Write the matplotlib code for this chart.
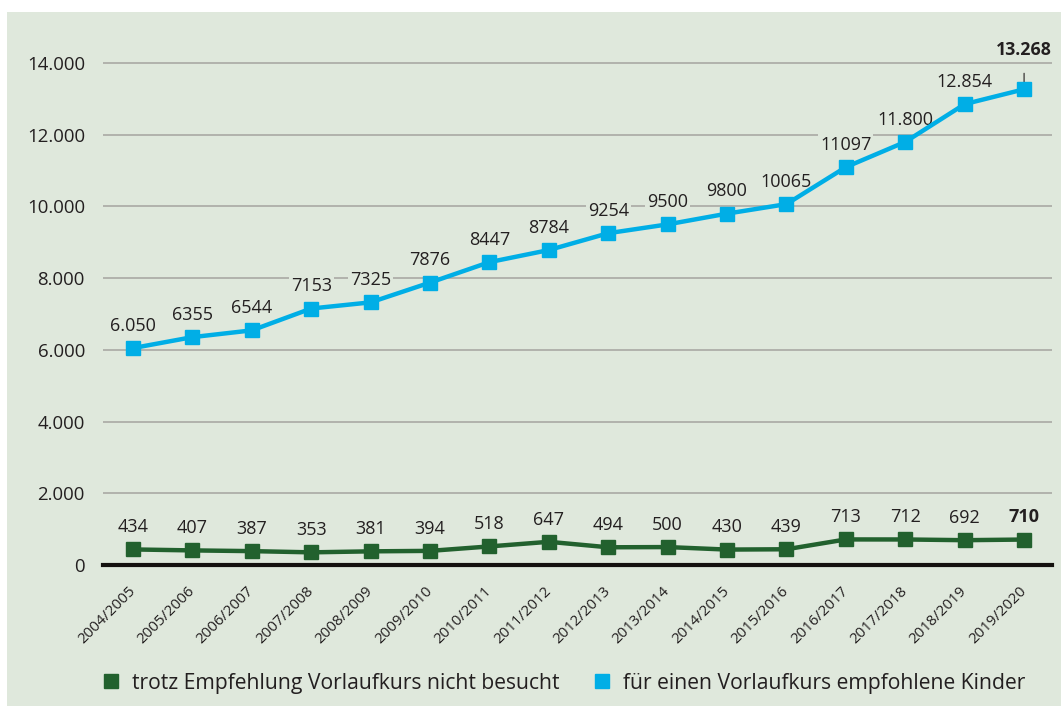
import matplotlib.pyplot as plt
from matplotlib.lines import Line2D
from matplotlib.patches import Rectangle
import matplotlib.transforms as mtransforms

plt.rcParams['font.family'] = ['Open Sans', 'DejaVu Sans']

# data
years = ['2004/2005', '2005/2006', '2006/2007', '2007/2008', '2008/2009', '2009/2010',
         '2010/2011', '2011/2012', '2012/2013', '2013/2014', '2014/2015', '2015/2016',
         '2016/2017', '2017/2018', '2018/2019', '2019/2020']
empfohlen = [6050, 6355, 6544, 7153, 7325, 7876, 8447, 8784, 9254, 9500, 9800, 10065,
             11097, 11800, 12854, 13268]
empfohlen_labels = ['6.050', '6355', '6544', '7153', '7325', '7876', '8447', '8784', '9254',
                    '9500', '9800', '10065', '11097', '11.800', '12.854', '13.268']
nicht_besucht = [434, 407, 387, 353, 381, 394, 518, 647, 494, 500, 430, 439, 713, 712, 692, 710]
yticks = [0, 2000, 4000, 6000, 8000, 10000, 12000, 14000]
ytick_labels = ['0', '2.000', '4.000', '6.000', '8.000', '10.000', '12.000', '14.000']
legend_labels = ['trotz Empfehlung Vorlaufkurs nicht besucht',
                 'für einen Vorlaufkurs empfohlene Kinder']

BG = '#dfe8dc'
BLUE = '#00aee6'
GREEN = '#22612e'
TEXT = '#231f20'

fig = plt.figure(figsize=(10.61, 7.15), dpi=100)
fig.patch.set_facecolor('white')
fig.add_artist(Rectangle((7 / 1061, 9 / 715), 1054 / 1061, 694 / 715,
                         transform=fig.transFigure, facecolor=BG, edgecolor='none', zorder=-10))

ax = fig.add_axes([103 / 1061, 150 / 715, 949 / 1061, 545 / 715])
ax.set_zorder(1)
ax.patch.set_alpha(0)

x = list(range(len(years)))
ax.plot(x, empfohlen, color=BLUE, lw=3.2, marker='s', ms=10, zorder=4)
ax.plot(x, nicht_besucht, color=GREEN, lw=3.2, marker='s', ms=9.5, zorder=4)

# value labels
for i, (v, lab) in enumerate(zip(empfohlen, empfohlen_labels)):
    if i == len(years) - 1:
        ax.annotate(lab, (i, v), xytext=(0, 28), textcoords='offset points',
                    ha='center', va='center', fontsize=12.8, fontweight='bold', color=TEXT,
                    arrowprops=dict(arrowstyle='-', color=TEXT, lw=0.8, shrinkA=8, shrinkB=4),
                    zorder=3)
    else:
        ax.annotate(lab, (i, v), xytext=(0, 16), textcoords='offset points',
                    ha='center', va='center', fontsize=13, color=TEXT, zorder=3,
                    bbox=dict(boxstyle='square,pad=0.1', facecolor=BG, edgecolor='none'))
for i, v in enumerate(nicht_besucht):
    bold = i == len(years) - 1
    ax.annotate(str(v), (i, v), xytext=(0, 16), textcoords='offset points',
                ha='center', va='center', fontsize=13, color=TEXT,
                fontweight='bold' if bold else 'normal', zorder=3)

ax.set_xlim(-0.505, 15.47)
ax.set_ylim(0, 15200)
ax.set_yticks(yticks)
ax.set_yticklabels(ytick_labels, fontsize=13.4, color=TEXT)
ax.set_xticks(x)
ax.set_xticklabels(years, rotation=45, ha='right', va='center', rotation_mode='anchor',
                   fontsize=10.8, color=TEXT)
offset = mtransforms.ScaledTranslation(6 / 100, 0, fig.dpi_scale_trans)
for lbl in ax.get_xticklabels():
    lbl.set_transform(lbl.get_transform() + offset)
ax.tick_params(axis='both', length=0)
ax.tick_params(axis='y', pad=13)
ax.tick_params(axis='x', pad=17)

ax.grid(axis='y', color='#a9a9a4', lw=1.2, zorder=1)
for s in ['top', 'right', 'left']:
    ax.spines[s].set_visible(False)
ax.spines['bottom'].set_color('#14110f')
ax.spines['bottom'].set_linewidth(3)
ax.spines['bottom'].set_zorder(5)

handles = [Line2D([], [], marker='s', ls='none', color=GREEN, ms=10),
           Line2D([], [], marker='s', ls='none', color=BLUE, ms=10)]
fig.legend(handles, legend_labels, loc='center', bbox_to_anchor=(564 / 1061, 1 - 683 / 715),
           ncol=2, frameon=False, fontsize=15.2, handlelength=0.8, handletextpad=0.6,
           columnspacing=1.6, labelcolor=TEXT)

fig.savefig('out.png', dpi=100)
